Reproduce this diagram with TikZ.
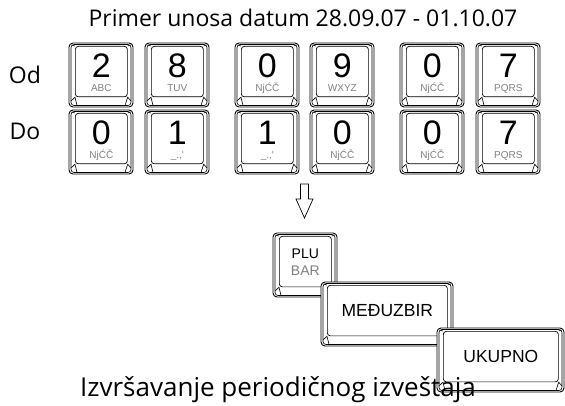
\documentclass[tikz,border=0pt]{standalone}
\usepackage{fontspec}
\setmainfont{Open Sans}
\newfontfamily\keyfont{Liberation Sans}
\usepackage{xcolor}
\usepackage{tikz}
\usetikzlibrary{shapes,arrows,positioning}
\definecolor{keygray}{RGB}{128,128,128}

\tikzset{
    keyline/.style={draw=black, line width=0.9pt, fill=white},
    keyface/.style={draw=black, line width=0.7pt, fill=white, rounded corners=3pt, inner sep=0pt, anchor=north west},
    digit/.style={font=\keyfont\fontsize{34}{34}\selectfont, inner sep=0pt, text height=24.5pt, text depth=0pt},
    letters/.style={font=\keyfont\fontsize{10}{10}\selectfont, text=keygray, inner sep=0pt, text height=7pt, text depth=0pt},
    keylabel/.style={font=\keyfont\fontsize{17.5}{17.5}\selectfont, inner sep=0pt},
    caption/.style={font=\fontsize{23}{26}\selectfont, inner sep=0pt}
}

% key cap: name, left, top, width, height
\newcommand{\keycap}[5]{%
    \draw[keyline, rounded corners=4pt] (#2,#3) rectangle (#2+#4,#3+#5);
    \draw[line width=0.6pt, rounded corners=3pt] (#2+2,#3+1.5) rectangle (#2+#4-2,#3+#5-1.5);
    \node[keyface, minimum width=#4pt-12pt, minimum height=#5pt-13.5pt] (#1) at (#2+6,#3+3) {};
    \draw[line width=0.6pt] (#1.north west) -- (#2+2.5,#3+2);
    \draw[line width=0.6pt] (#1.north east) -- (#2+#4-2.5,#3+2);
    \draw[line width=0.6pt] (#2+2,#3+#5-6) -- (#1.south west) -- (#2+8,#3+#5-1.5);
    \draw[line width=0.6pt] (#2+#4-2,#3+#5-6) -- (#1.south east) -- (#2+#4-8,#3+#5-1.5);
}
% number key: name, left, top, digit, letters
\newcommand{\digitkey}[5]{%
    \keycap{#1}{#2}{#3}{64}{64}
    \node[digit] (#1n) at ([yshift=6.5pt]#1.center) {#4};
    \node[letters] (#1l) at ([yshift=-16.5pt]#1.center) {#5};
}

\begin{document}
\begin{tikzpicture}[x=1pt, y=-1pt]
    \useasboundingbox (0,0) rectangle (565,406);
    % heading
    \node[caption] (title) at (303,18) {Primer unosa datum 28.09.07 - 01.10.07};
    \node[caption] (od) at (25,75) {Od};
    \node[caption] (do) at (25,131) {Do};
    % date from
    \digitkey{a1}{69}{43}{2}{ABC}
    \digitkey{a2}{145}{43}{8}{TUV}
    \digitkey{a3}{235}{43}{0}{NjĆČ}
    \digitkey{a4}{310}{43}{9}{WXYZ}
    \digitkey{a5}{400}{43}{0}{NjĆČ}
    \digitkey{a6}{476}{43}{7}{PQRS}
    % date to
    \digitkey{b1}{69}{110}{0}{NjĆČ}
    \digitkey{b2}{145}{110}{1}{\_.,'}
    \digitkey{b3}{235}{110}{1}{\_.,'}
    \digitkey{b4}{310}{110}{0}{NjĆČ}
    \digitkey{b5}{400}{110}{0}{NjĆČ}
    \digitkey{b6}{476}{110}{7}{PQRS}
    % hollow arrow
    \draw[line width=0.7pt] (300.5,184) -- (308.5,184) -- (308.5,199) -- (313,199) -- (304.5,218)
        -- (296,199) -- (300.5,199) -- cycle;
    % function keys
    \keycap{plu}{273}{233}{64}{64}
    \node[keylabel, font=\keyfont\fontsize{14}{14}\selectfont] (plut) at ([yshift=8pt]plu.center) {PLU};
    \node[keylabel, font=\keyfont\fontsize{14}{14}\selectfont, text=keygray] (bart) at ([yshift=-9.5pt]plu.center) {BAR};
    \keycap{mid}{321}{282}{132}{64}
    \node[keylabel] (midt) at (mid.center) {MEĐUZBIR};
    \keycap{tot}{437}{328}{127}{64}
    \node[keylabel] (tott) at (tot.center) {UKUPNO};
    % footer
    \node[caption, font=\fontsize{26}{30}\selectfont] (report) at (278,390) {Izvršavanje periodičnog izveštaja};
\end{tikzpicture}
\end{document}
